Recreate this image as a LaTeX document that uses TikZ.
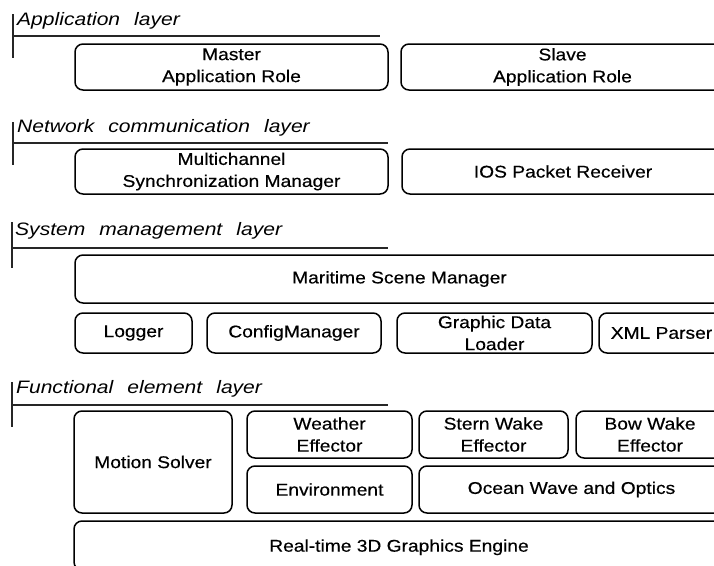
\documentclass[tikz,border=0pt]{standalone}
\usepackage{fontspec}
\setmainfont{Liberation Sans}[FakeStretch=1.13, FakeBold=0.4]
\newfontfamily\labelfont{Liberation Sans}[FakeStretch=1.17, WordSpace=2.4]
\begin{document}
\begin{tikzpicture}[x=1pt,y=-1pt,
  box/.style={draw=black, line width=1.5pt, rounded corners=8pt, inner sep=0pt,
    align=center, font=\fontsize{17}{22}\selectfont},
  layerlabel/.style={anchor=base west, inner sep=0pt, font=\labelfont\itshape\fontsize{18}{22}\selectfont},
  layerline/.style={draw=black!85, line width=1.4pt}]
\useasboundingbox (0,0) rectangle (714,565);
\clip (0,0) rectangle (714,565);
\fill[white] (0,0) rectangle (714,565);
% Application layer
\node[layerlabel] (lapp) at (17,25) {Application layer};
\draw[layerline] (13,14) -- (13,58);
\draw[layerline] (13,36) -- (380,36);
\node[box, minimum width=313, minimum height=46] (master) at (231.5,67) {Master\\Application Role};
\node[box, minimum width=323, minimum height=46] (slave) at (562.5,67) {Slave\\Application Role};
% Network communication layer
\node[layerlabel] (lnet) at (17,132) {Network communication layer};
\draw[layerline] (13,122) -- (13,165);
\draw[layerline] (13,143) -- (388,143);
\node[box, minimum width=313, minimum height=45] (msm) at (231.5,171.5) {Multichannel\\Synchronization Manager};
\node[box, minimum width=322, minimum height=45] (ios) at (563,171.5) {IOS Packet Receiver};
% System management layer
\node[layerlabel] (lsys) at (15,235) {System management layer};
\draw[layerline] (12,222) -- (12,268);
\draw[layerline] (12,248) -- (388,248);
\node[box, minimum width=649, minimum height=48] (msm2) at (399.5,279) {Maritime Scene Manager};
\node[box, minimum width=117, minimum height=40] (logger) at (133.5,333) {Logger};
\node[box, minimum width=174, minimum height=40] (config) at (294,333) {ConfigManager};
\node[box, minimum width=195, minimum height=40] (gdl) at (494.5,333) {Graphic Data\\Loader};
\node[box, minimum width=125, minimum height=40] (xml) at (661.5,333) {XML Parser};
% Functional element layer
\node[layerlabel] (lfun) at (16,393) {Functional element layer};
\draw[layerline] (12,382) -- (12,427);
\draw[layerline] (12,405) -- (388,405);
\node[box, minimum width=158, minimum height=102] (motion) at (153,462) {Motion Solver};
\node[box, minimum width=165, minimum height=47] (weather) at (329.5,434.5) {Weather\\Effector};
\node[box, minimum width=149, minimum height=47] (stern) at (493.5,434.5) {Stern Wake\\Effector};
\node[box, minimum width=148, minimum height=47] (bow) at (650,434.5) {Bow Wake\\Effector};
\node[box, minimum width=165, minimum height=47] (env) at (329.5,489.5) {Environment};
\node[box, minimum width=305, minimum height=47] (ocean) at (571.5,489.5) {Ocean Wave and Optics};
\node[box, minimum width=650, minimum height=49, text depth=0pt] (rt) at (399,545.5) {Real-time 3D Graphics Engine};
\end{tikzpicture}
\end{document}
